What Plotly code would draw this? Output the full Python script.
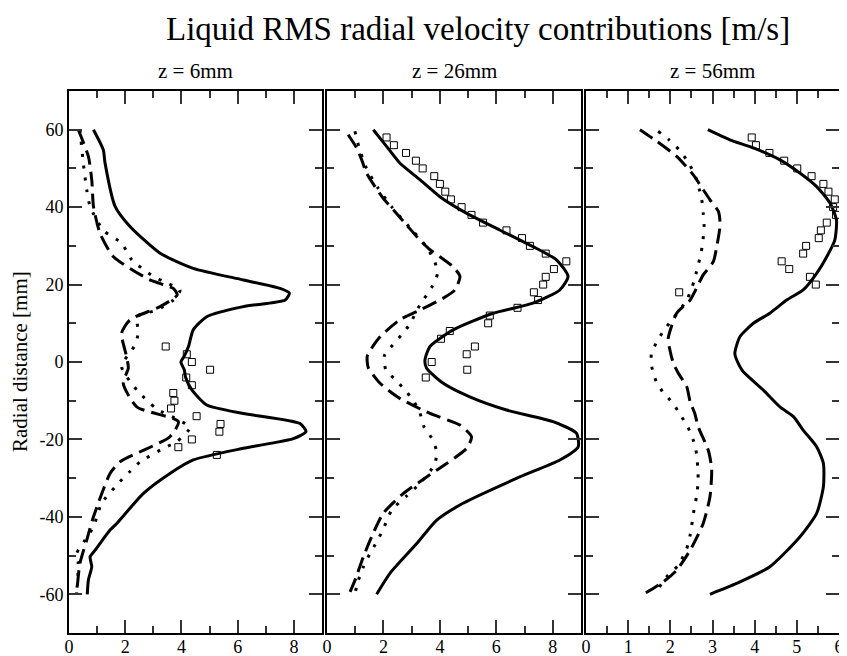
import plotly.graph_objects as go

FONT = "Liberation Serif, Times New Roman, serif"

# ---------------- Panel 1 : z = 6mm ----------------
p1_solid_y = [60, 54.8, 51.5, 40.2, 35, 28.1, 24.2, 21.2, 19.0, 17.8, 16, 14.3, 11.7, 8.3, 4, 1.5, 0,
              -2, -4, -7.2, -11.1, -13.3, -15.9, -18, -19.8, -22.3, -25.3, -28.8, -34, -41.7, -43.4,
              -48.6, -50.3, -52.9, -56.3, -60]
p1_solid_x = [0.87, 1.22, 1.28, 1.64, 2.17, 3.24, 4.42, 6.2, 7.51, 7.84, 7.69, 6.2, 4.9, 4.42, 4.25, 4.1, 3.98,
              4.1, 4.15, 4.37, 4.9, 6.2, 8.22, 8.43, 7.98, 6.2, 4.42, 3.59, 2.64, 1.70, 1.46,
              0.93, 0.75, 0.81, 0.69, 0.65]
p1_dash_y = [60, 53.1, 47, 40.2, 33.3, 27.2, 21.2, 19, 17.3, 14.3, 10.9, 7.4, 1.4, -1.6, -5.5, -11.6,
             -15.4, -19.3, -25.8, -28.8, -40, -46, -52, -60]
p1_dash_x = [0.33, 0.69, 0.81, 0.87, 1.10, 1.58, 2.88, 3.71, 3.85, 3.24, 2.17, 1.87, 2.05, 2.11, 1.93, 2.41,
             3.89, 3.59, 1.81, 1.46, 0.87, 0.63, 0.39, 0.27]
p1_dot_y = [60, 51.3, 44.5, 40.2, 34, 30.7, 26.4, 22.1, 20.4, 18.6, 16, 13.4, 11.7, 7.8, 4.4, -1.2,
            -7.2, -12, -15, -16.9, -20.6, -22.3, -25.8, -28.3, -30.9, -36.5, -42.6, -46, -49.5, -52, -60]
p1_dot_x = [0.39, 0.51, 0.63, 0.75, 1.22, 1.87, 2.23, 3.0, 3.48, 3.95, 3.71, 3.12, 2.41, 2.47, 2.35, 1.87,
            2.41, 3.1, 3.9, 4.31, 3.83, 3.36, 2.53, 2.17, 1.81, 1.16, 0.87, 0.57, 0.27, 0.33, 0.27]
p1_exp_y = [4, 2, 0, -2, -4, -6, -8, -10, -12, -14, -16, -18, -20, -22, -24]
p1_exp_x = [3.44, 4.19, 4.37, 5.02, 4.17, 4.37, 3.71, 3.75, 3.63, 4.54, 5.39, 5.35, 4.37, 3.89, 5.26]

# ---------------- Panel 2 : z = 26mm ----------------
p2_solid_y = [60, 55.7, 51.4, 47.1, 42.7, 38.4, 34.1, 29.8, 26.4, 22.1, 18.6, 15.2, 12.6, 8.3, 4.0, 0.5,
              -1.6, -5.5, -9.0, -12.4, -15.4, -18.4, -21.9, -25.3, -29.7, -36.5, -40.9, -46.9, -54.6, -60]
p2_solid_x = [1.64, 2.11, 2.58, 3.29, 4.0, 4.95, 6.12, 7.30, 8.13, 8.54, 8.25, 7.30, 5.89, 4.47, 3.65, 3.47,
              3.53, 4.12, 5.06, 6.36, 8.01, 8.84, 8.90, 8.25, 6.83, 4.82, 3.88, 3.18, 2.23, 1.76]
p2_dash_y = [58.7, 55.3, 52.2, 48.8, 45.3, 42.3, 39.3, 35.4, 31.5, 29, 27.2, 24.6, 22.1, 18.6, 16.5, 13.4,
             10.9, 6.5, 1.6, -1.4, -5.5, -9.4, -13.3, -16.3, -19.3, -22.3, -26.2, -29.7, -34.0, -39.1,
             -45.2, -50.3, -56.4, -60]
p2_dash_x = [0.75, 1.05, 1.23, 1.40, 1.70, 1.99, 2.35, 2.82, 3.29, 3.65, 4.0, 4.47, 4.71, 4.53, 4.12, 3.29,
             2.58, 1.88, 1.43, 1.46, 1.88, 2.58, 3.65, 4.71, 5.12, 4.95, 4.24, 3.53, 2.70, 1.99,
             1.58, 1.29, 0.99, 0.78]
p2_dot_y = [59.6, 55, 50, 45, 40, 35, 30, 25.9, 22.7, 19.3, 16.2, 13.4, 10.0, 7.0, 4.4, 1.6, -1.9, -4.5,
            -7.2, -10, -13.1, -16.6, -19.7, -22.9, -26.4, -31.4, -34.6, -38.3, -43.2, -46.5, -49.5,
            -52.9, -56.4, -59.8]
p2_dot_x = [0.99, 1.15, 1.40, 1.80, 2.30, 2.90, 3.50, 3.82, 3.91, 3.71, 3.43, 3.18, 2.96, 2.64, 2.33, 2.03,
            2.08, 2.41, 2.76, 3.06, 3.29, 3.43, 3.71, 3.88, 3.82, 3.29, 2.82, 2.29, 1.99, 1.76, 1.52,
            1.29, 1.11, 0.99]
p2_exp_y = [58, 56, 54, 52, 50, 48, 46, 44, 42, 40, 38, 36, 34, 32, 30, 28, 26, 24, 22, 20, 18, 16, 14,
            12, 10, 8, 6, 4, 2, 0, -2, -4]
p2_exp_x = [2.11, 2.37, 2.80, 3.15, 3.39, 3.80, 4.00, 4.19, 4.39, 4.77, 5.12, 5.53, 6.36, 6.91, 7.19, 7.75,
            8.48, 8.04, 7.75, 7.66, 7.33, 7.48, 6.75, 5.77, 5.71, 4.35, 4.04, 5.24, 4.95, 3.71, 4.97, 3.50]

# ---------------- Panel 3 : z = 56mm ----------------
p3_solid_y = [60, 57.4, 55.3, 52.2, 48.8, 45.3, 41, 36.7, 31.5, 27.2, 22.9, 18.6, 16.0, 12.6, 10, 6.5,
              2.2, -1.2, -2.5, -7.2, -11.6, -14.1, -17.6, -21.9, -26.2, -32.2, -39.1, -45.2, -52.9,
              -57.2, -60]
p3_solid_x = [2.89, 3.41, 3.97, 4.60, 5.07, 5.47, 5.79, 5.94, 5.90, 5.71, 5.47, 5.15, 4.76, 4.36, 3.97, 3.65,
              3.53, 3.65, 3.73, 4.20, 4.60, 4.92, 5.15, 5.47, 5.63, 5.63, 5.47, 5.07, 4.36,
              3.57, 2.94]
p3_dash_y = [60, 57, 53.1, 48.4, 44.5, 41.9, 38.9, 35.4, 29.8, 25.9, 22.5, 16.0, 12.6, 6.1, 3.1, -0.3,
             -2.9, -6.4, -10.3, -13.3, -16.7, -22.8, -27.5, -34.8, -41.7, -48.6, -53.8, -56.8, -60]
p3_dash_x = [1.28, 1.68, 2.15, 2.54, 2.78, 2.94, 3.14, 3.18, 3.10, 3.02, 2.78, 2.47, 2.15, 1.95, 1.99, 2.07,
             2.19, 2.39, 2.47, 2.58, 2.66, 2.90, 2.98, 2.94, 2.78, 2.47, 2.15, 1.83, 1.36]
p3_dot_y = [59.6, 57.4, 54.8, 52, 48.4, 42.3, 38.4, 35, 31.1, 27.7, 24.2, 20.8, 16, 11.3, 8.4, 5.4, 2.1,
            -1.2, -4.9, -7.9, -10.5, -13.5, -16.7, -20, -23.6, -27.2, -31, -34.8, -38.3, -44.7, -48.2,
            -52.5, -55.5, -59.8]
p3_dot_x = [1.71, 1.97, 2.21, 2.40, 2.58, 2.74, 2.78, 2.80, 2.77, 2.72, 2.64, 2.56, 2.39, 2.07, 1.86, 1.69,
            1.55, 1.56, 1.66, 1.83, 2.05, 2.23, 2.41, 2.54, 2.62, 2.65, 2.66, 2.62, 2.56, 2.47, 2.39,
            2.19, 1.91, 1.64]
p3_exp_y = [58, 56, 54, 52, 50, 48, 46, 44, 42, 40, 38, 36, 34, 32, 30, 28, 26, 24, 22, 20, 18]
p3_exp_x = [3.93, 4.03, 4.35, 4.70, 5.01, 5.35, 5.63, 5.75, 5.90, 5.86, 5.93, 5.71, 5.57, 5.52, 5.22, 5.15,
            4.64, 4.82, 5.31, 5.45, 2.21]

panel_titles = ["z = 6mm", "z = 26mm", "z = 56mm"]
main_title = "Liquid RMS radial velocity contributions [m/s]"
y_title = "Radial distance [mm]"
y_tickvals = [-60, -40, -20, 0, 20, 40, 60]
y_ticktext = ["-60", "-40", "-20", "0", "20", "40", "60"]

panels = [
    (p1_solid_x, p1_solid_y, p1_dash_x, p1_dash_y, p1_dot_x, p1_dot_y, p1_exp_x, p1_exp_y),
    (p2_solid_x, p2_solid_y, p2_dash_x, p2_dash_y, p2_dot_x, p2_dot_y, p2_exp_x, p2_exp_y),
    (p3_solid_x, p3_solid_y, p3_dash_x, p3_dash_y, p3_dot_x, p3_dot_y, p3_exp_x, p3_exp_y),
]

fig = go.Figure()
for i, (sx, sy, dx, dy, ox, oy, ex, ey) in enumerate(panels):
    xa = "x" if i == 0 else f"x{i+1}"
    ya = "y" if i == 0 else f"y{i+1}"
    common = dict(xaxis=xa, yaxis=ya, mode="lines", showlegend=False, hoverinfo="skip")
    fig.add_trace(go.Scatter(x=sx, y=sy, line=dict(color="black", width=3, shape="spline", smoothing=0.6), **common))
    fig.add_trace(go.Scatter(x=dx, y=dy, line=dict(color="black", width=3, dash="15px,7px", shape="spline", smoothing=0.6), **common))
    fig.add_trace(go.Scatter(x=ox, y=oy, line=dict(color="black", width=3, dash="3px,9px", shape="spline", smoothing=0.6), **common))
    fig.add_trace(go.Scatter(x=ex, y=ey, xaxis=xa, yaxis=ya, mode="markers", showlegend=False, hoverinfo="skip",
                             marker=dict(symbol="square-open", size=7, color="black", line=dict(width=1, color="black"))))

# page body has an 8px default margin: lay out in reference pixel coords, shifted by OFF
OFF = 8
W, H = 847 - OFF, 656 - OFF
L, R, T, B = 69 - OFF, 8, 91 - OFF, 23
pw = W - L - R
ph = H - T - B

def px_x(x):
    return (x - OFF - L) / pw

def px_y(y):
    return (H - B - (y - OFF)) / ph

domains = [[px_x(69), px_x(322)], [px_x(327), px_x(581)], [px_x(586), px_x(839)]]
xranges = [[0, 9], [0, 9], [0, 6]]
xmaj = [[0, 2, 4, 6, 8], [0, 2, 4, 6, 8], [0, 1, 2, 3, 4, 5, 6]]
xmin = [[1, 3, 5, 7], [1, 3, 5, 7], [0.5, 1.5, 2.5, 3.5, 4.5, 5.5]]

tickfont = dict(family=FONT, size=18, color="black")
axis_common = dict(showline=True, linecolor="black", linewidth=2, mirror="ticks", ticks="inside",
                   ticklen=13, tickwidth=2, tickcolor="#333", showgrid=False, zeroline=False,
                   tickfont=tickfont, automargin=False)

layout = dict(width=W, height=H, margin=dict(l=L, r=R, t=T, b=B), plot_bgcolor="white",
              paper_bgcolor="white", showlegend=False)
for i in range(3):
    xk = "xaxis" if i == 0 else f"xaxis{i+1}"
    yk = "yaxis" if i == 0 else f"yaxis{i+1}"
    layout[xk] = dict(axis_common, domain=domains[i], range=xranges[i], tickvals=xmaj[i],
                      anchor="y" if i == 0 else f"y{i+1}", ticklabelstandoff=-4,
                      minor=dict(tickvals=xmin[i], ticks="inside", ticklen=7, tickwidth=2, tickcolor="#333",
                                 showgrid=False))
    layout[yk] = dict(axis_common, domain=[0, 1], range=[-70, 70], tickvals=y_tickvals, ticktext=y_ticktext,
                      anchor="x" if i == 0 else f"x{i+1}", showticklabels=(i == 0),
                      minor=dict(tickvals=[-50, -30, -10, 10, 30, 50], ticks="inside", ticklen=7,
                                 tickwidth=2, tickcolor="#333", showgrid=False))

annotations = [
    dict(text=main_title, x=px_x(478), y=px_y(29), xref="paper", yref="paper",
         xanchor="center", yanchor="middle", showarrow=False, font=dict(family=FONT, size=33, color="black")),
    dict(text=y_title, x=px_x(20), y=px_y(362), xref="paper", yref="paper", textangle=-90,
         xanchor="center", yanchor="middle", showarrow=False, font=dict(family=FONT, size=21, color="black")),
]
centers = [195.5, 454, 712.5]
for c, t in zip(centers, panel_titles):
    annotations.append(dict(text=t, x=px_x(c), y=px_y(71), xref="paper", yref="paper",
                            xanchor="center", yanchor="middle", showarrow=False,
                            font=dict(family=FONT, size=21, color="black")))
layout["annotations"] = annotations

fig.update_layout(**layout)
fig.write_html("out.html")
